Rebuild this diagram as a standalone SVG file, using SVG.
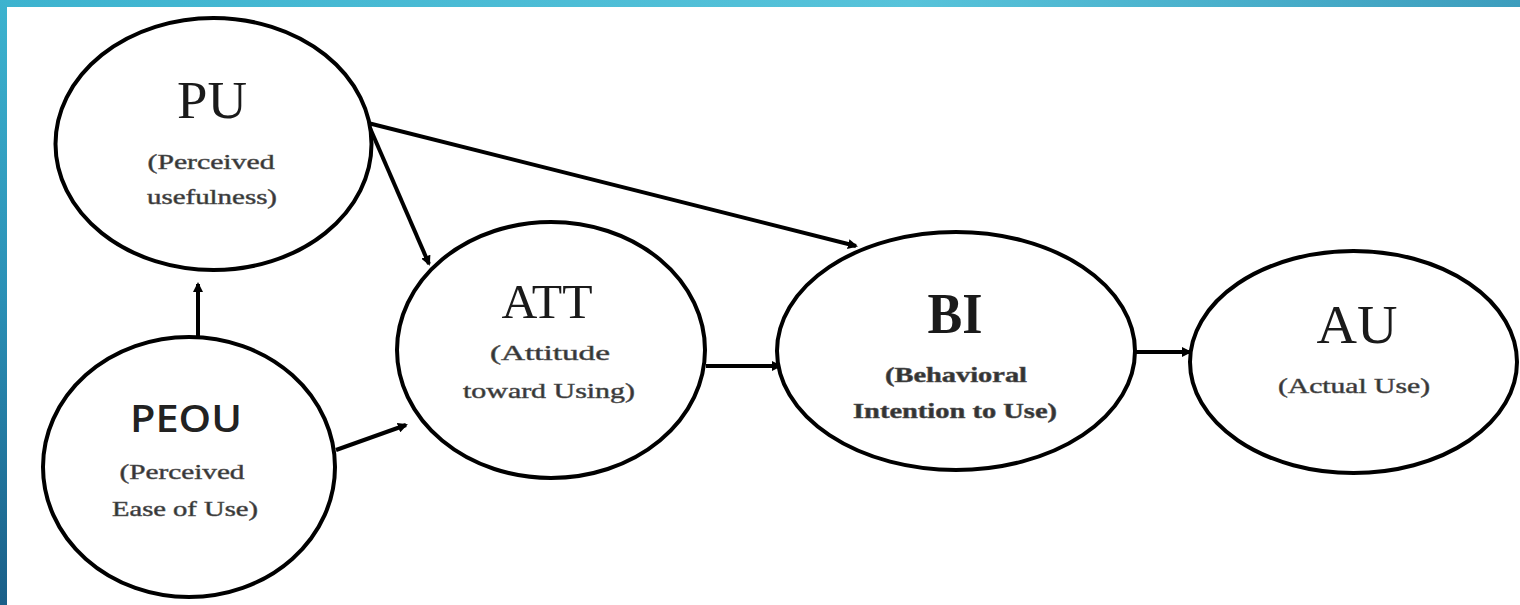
<svg xmlns="http://www.w3.org/2000/svg" width="1520" height="605" viewBox="0 0 1520 605">
<defs>
<linearGradient id="gTop" x1="0" y1="0" x2="1" y2="0">
<stop offset="0" stop-color="#3db3cf"/>
<stop offset="0.6" stop-color="#57c3da"/>
<stop offset="1" stop-color="#3d9dbd"/>
</linearGradient>
<linearGradient id="gLeft" x1="0" y1="0" x2="0" y2="1">
<stop offset="0" stop-color="#3db3cf"/>
<stop offset="0.5" stop-color="#2a8fb5"/>
<stop offset="1" stop-color="#1a5f88"/>
</linearGradient>
<marker id="arr" markerWidth="10" markerHeight="10" refX="8" refY="5" orient="auto" markerUnits="userSpaceOnUse">
<path d="M0,0 L10,5 L0,10 Z" fill="#000"/>
</marker>
<style>
.node{fill:#fff;stroke:#000;stroke-width:4}
.edge{stroke:#000;stroke-width:4;fill:none;marker-end:url(#arr)}
.t{font-family:"Liberation Serif","Times New Roman",serif;fill:#1a1a1a;text-anchor:middle}
.s{font-family:"Liberation Serif","Times New Roman",serif;fill:#333;text-anchor:middle;font-size:21px;stroke:#555;stroke-width:0.5}
.ps{font-family:"Open Sans","Liberation Sans",sans-serif;fill:#222;text-anchor:middle;font-weight:600}
</style>
</defs>
<rect x="0" y="0" width="1520" height="605" fill="#fff"/>
<rect x="0" y="0" width="1520" height="7" fill="url(#gTop)"/>
<rect x="0" y="0" width="7" height="605" fill="url(#gLeft)"/>

<g id="connectors">
<line class="edge" x1="198" y1="337" x2="198" y2="284"/>
<line class="edge" x1="370" y1="128" x2="429" y2="264"/>
<line class="edge" x1="368" y1="123" x2="856" y2="246"/>
<line class="edge" x1="336" y1="450" x2="406" y2="425"/>
<line class="edge" x1="706" y1="366" x2="780" y2="366"/>
<line class="edge" x1="1135" y1="352" x2="1190" y2="352"/>
</g>

<g id="PU">
<ellipse class="node" cx="213.5" cy="144" rx="158" ry="126"/>
<text class="t" x="212" y="118" font-size="52" textLength="70" lengthAdjust="spacingAndGlyphs">PU</text>
<text class="s" x="211" y="169" textLength="127" lengthAdjust="spacingAndGlyphs">(Perceived</text>
<text class="s" x="212" y="204" textLength="130" lengthAdjust="spacingAndGlyphs">usefulness)</text>
</g>

<g id="PEOU">
<ellipse class="node" cx="189" cy="467" rx="146" ry="130"/>
<text class="ps" x="186" y="432" font-size="37" textLength="112" lengthAdjust="spacingAndGlyphs">PEOU</text>
<text class="s" x="182" y="479" textLength="125" lengthAdjust="spacingAndGlyphs">(Perceived</text>
<text class="s" x="185" y="516" textLength="146" lengthAdjust="spacingAndGlyphs">Ease of Use)</text>
</g>

<g id="ATT">
<ellipse class="node" cx="551" cy="350" rx="154" ry="128"/>
<text class="t" x="547" y="318" font-size="48" textLength="91" lengthAdjust="spacingAndGlyphs">ATT</text>
<text class="s" x="550" y="360" textLength="120" lengthAdjust="spacingAndGlyphs">(Attitude</text>
<text class="s" x="549" y="398" textLength="172" lengthAdjust="spacingAndGlyphs">toward Using)</text>
</g>

<g id="BI">
<ellipse class="node" cx="956" cy="351" rx="179" ry="119"/>
<text class="t" x="955" y="333" font-size="58" font-weight="bold" textLength="55" lengthAdjust="spacingAndGlyphs">BI</text>
<text class="s" x="956" y="382" font-weight="bold" textLength="142" lengthAdjust="spacingAndGlyphs">(Behavioral</text>
<text class="s" x="955" y="418" font-weight="bold" textLength="204" lengthAdjust="spacingAndGlyphs">Intention to Use)</text>
</g>

<g id="AU">
<ellipse class="node" cx="1353.5" cy="362" rx="163.5" ry="111"/>
<text class="t" x="1357" y="343" font-size="54" textLength="81" lengthAdjust="spacingAndGlyphs">AU</text>
<text class="s" x="1354" y="393" textLength="152" lengthAdjust="spacingAndGlyphs">(Actual Use)</text>
</g>
</svg>
